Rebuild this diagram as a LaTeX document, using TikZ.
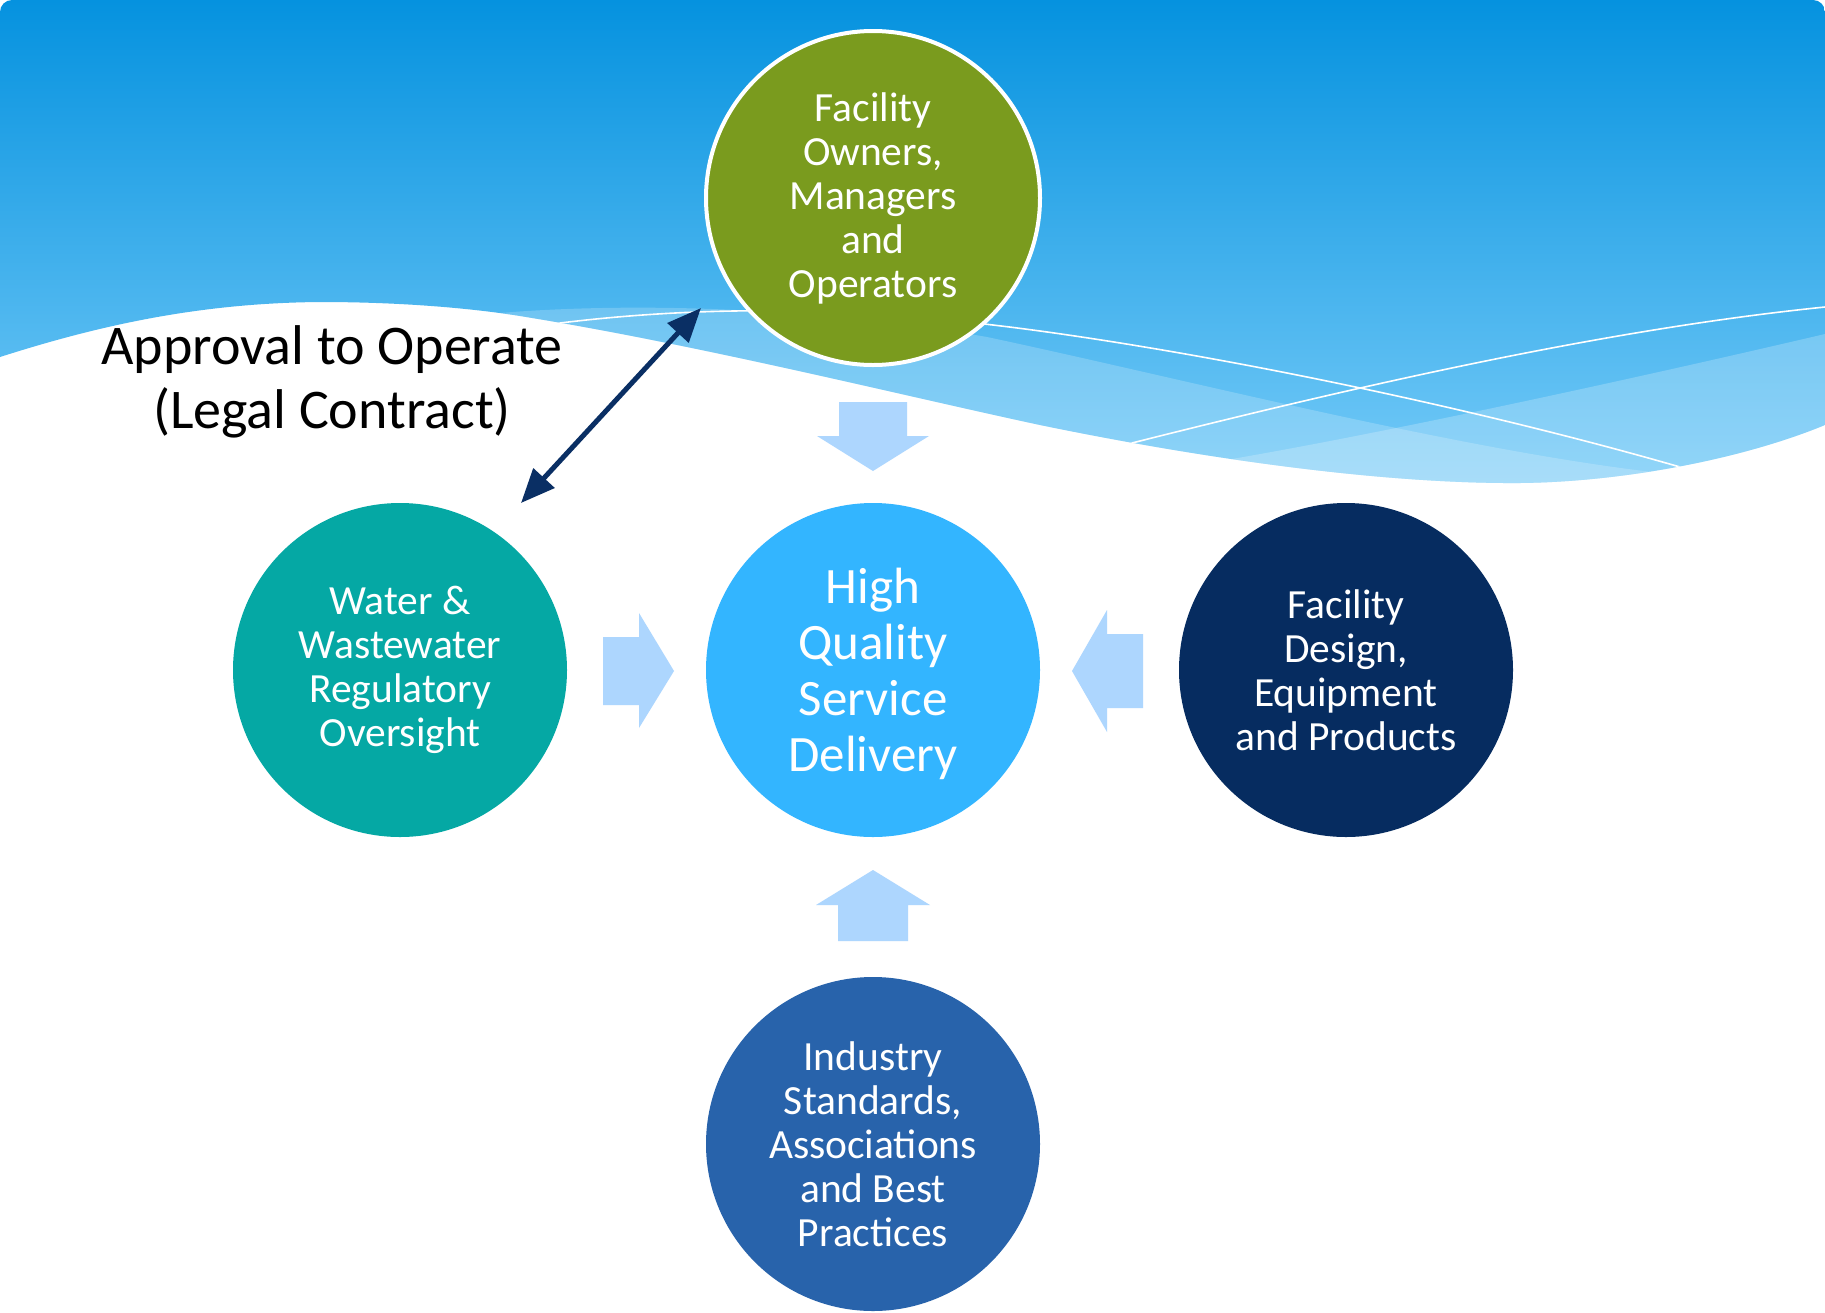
\documentclass[tikz,border=0pt]{standalone}
\usepackage{fontspec}
\setmainfont{Carlito}
\usetikzlibrary{arrows.meta}
\definecolor{cTop}{HTML}{0592DF}
\definecolor{cBot}{HTML}{76CBF8}
\definecolor{cOlive}{HTML}{7A9B1E}
\definecolor{cSky}{HTML}{33B5FF}
\definecolor{cTeal}{HTML}{05A8A4}
\definecolor{cNavy}{HTML}{062C60}
\definecolor{cRoyal}{HTML}{2863AB}
\definecolor{cArrow}{HTML}{ADD6FE}
\definecolor{cDark}{HTML}{0A2F64}
\begin{document}
\begin{tikzpicture}[x=1pt,y=-1pt,
  circ/.style={circle,inner sep=0pt,minimum size=334pt,text=white,align=center,
    font=\fontsize{41.5}{44}\selectfont},
  blockarr/.style={fill=cArrow},
  wline/.style={white,line width=1.6pt},
  legal/.style={cDark,line width=5pt,{Triangle[length=34pt,width=28pt]}-{Triangle[length=34pt,width=28pt]}},
]
\useasboundingbox (0,0) rectangle (1825,1312);
\fill[white] (0,0) rectangle (1825,1312);
% wave background
\begin{scope}
\clip (0,357) .. controls (100,325) and (200,303) .. (320,302)
  .. controls (400,302) and (470,308) .. (520,316)
  .. controls (700,345) and (900,395) .. (1040,425)
  .. controls (1200,458) and (1380,484) .. (1520,483)
  .. controls (1620,482) and (1740,460) .. (1825,425)
  [rounded corners=12pt] -- (1825,0) -- (0,0) [sharp corners] -- cycle;
\shade[top color=cTop,bottom color=cBot] (0,0) rectangle (1825,490);
\fill[white,opacity=.2] (470,340) -- (500,313) .. controls (620,303) and (800,305) .. (987,337)
  .. controls (1180,378) and (1450,448) .. (1652,472) -- (1700,600) -- (470,600) -- cycle;
\fill[white,opacity=.22] (1200,475) -- (1232,459) .. controls (1400,430) and (1650,375) .. (1825,334)
  -- (1830,334) -- (1830,600) -- (1200,600) -- cycle;
\draw[wline] (540,326) -- (560,323) .. controls (700,306) and (850,305) .. (1040,331)
  .. controls (1250,360) and (1500,415) .. (1680,467) -- (1700,474);
\draw[wline] (1110,449) -- (1132,443) .. controls (1350,388) and (1600,330) .. (1825,307);
\end{scope}
% circles
\node[circ,fill=cOlive,draw=white,line width=4pt] (own) at (873,198) {Facility\\Owners,\\Managers\\and\\Operators};
\node[circ,fill=cSky,font=\fontsize{51}{56}\selectfont] (hq) at (873,670) {\rule{0pt}{43pt}High\\Quality\\Service\\Delivery};
\node[circ,fill=cTeal] (reg) at (400,670) {Water \&\\Wastewater\\Regulatory\\Oversight};
\node[circ,fill=cNavy] (des) at (1346,670) {Facility\\Design,\\Equipment\\and Products};
\node[circ,fill=cRoyal] (ind) at (873,1144) {Industry\\Standards,\\Associations\\and Best\\Practices};
% block arrows
\fill[blockarr] (839,402) -- (907,402) -- (907,436) -- (929,436) -- (873,471) -- (817,436) -- (839,436) -- cycle;
\fill[blockarr] (838,941) -- (908,941) -- (908,905) -- (930,905) -- (873,870) -- (816,905) -- (838,905) -- cycle;
\fill[blockarr] (603,637) -- (639,637) -- (639,613) -- (674,671) -- (639,728) -- (639,705) -- (603,705) -- cycle;
\fill[blockarr] (1143,634) -- (1107,634) -- (1107,610) -- (1072,671) -- (1107,732) -- (1107,708) -- (1143,708) -- cycle;
% label and legal arrow
\node[font=\fontsize{56}{64}\selectfont,align=center] (lbl) at (332,382) {Approval to Operate\\(Legal Contract)};
\coordinate (p1) at (521,503);
\coordinate (p2) at (701,308);
\draw[legal] (p1) -- (p2);
\end{tikzpicture}
\end{document}
